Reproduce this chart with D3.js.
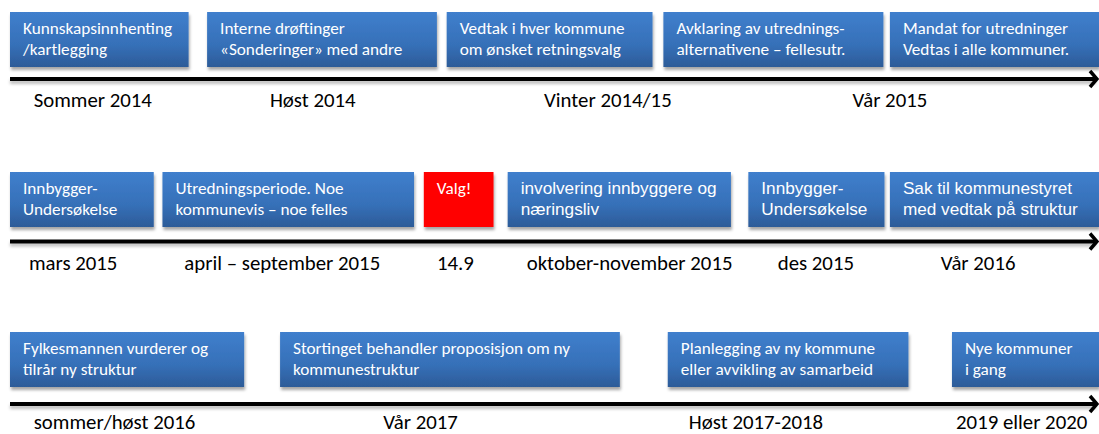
<!DOCTYPE html>
<html>
<head>
<meta charset="utf-8">
<script src="https://cdn.jsdelivr.net/npm/d3@7"></script>
<style>
  html, body { margin: 0; padding: 0; background: #fff; }
  svg { display: block; }
</style>
</head>
<body>
<div id="chart"></div>
<script>
// ---------- Data ----------
// box text (lines split by "|"), span on the timeline (0-100), label position
const row1Text  = ["Kunnskapsinnhenting|/kartlegging", "Interne drøftinger|«Sonderinger» med andre",
                   "Vedtak i hver kommune|om ønsket retningsvalg", "Avklaring av utrednings-|alternativene – fellesutr.",
                   "Mandat for utredninger|Vedtas i alle kommuner."];
const row1Span  = [[0, 16.4], [18.1, 39.2], [40.1, 59.0], [60.0, 80.2], [80.8, 100]];
const row1Label = ["Sommer 2014", "Høst 2014", "Vinter 2014/15", "Vår 2015"];
const row1LabelAt = [7.6, 27.8, 54.9, 80.8];

const row2Text  = ["Innbygger-|Undersøkelse", "Utredningsperiode. Noe|kommunevis – noe felles", "Valg!",
                   "involvering innbyggere og|næringsliv", "Innbygger-|Undersøkelse",
                   "Sak til kommunestyret|med vedtak på struktur"];
const row2Span  = [[0, 13.2], [14.0, 37.1], [38.0, 44.4], [45.7, 66.2], [67.8, 80.3], [80.8, 100]];
const row2Kind  = ["calibri", "calibri", "red", "arial", "arial", "arial"];
const row2Label = ["mars 2015", "april – september 2015", "14.9", "oktober-november 2015", "des 2015", "Vår 2016"];
const row2LabelAt = [5.8, 25.0, 40.9, 56.9, 74.0, 88.9];

const row3Text  = ["Fylkesmannen vurderer og|tilrår ny struktur", "Stortinget behandler proposisjon om ny|kommunestruktur",
                   "Planlegging av ny kommune|eller avvikling av samarbeid", "Nye kommuner|i gang"];
const row3Span  = [[0, 21.5], [24.8, 56.0], [60.4, 82.5], [86.5, 100]];
const row3Label = ["sommer/høst 2016", "Vår 2017", "Høst 2017-2018", "2019 eller 2020"];
const row3LabelAt = [9.6, 37.7, 68.5, 92.9];

const rows = [
  {text: row1Text, span: row1Span, kind: row1Text.map(() => "calibri"), label: row1Label, at: row1LabelAt},
  {text: row2Text, span: row2Span, kind: row2Kind, label: row2Label, at: row2LabelAt},
  {text: row3Text, span: row3Span, kind: row3Text.map(() => "calibri"), label: row3Label, at: row3LabelAt}
];

// ---------- Setup ----------
const width = 1099, height = 434;
const svg = d3.select("#chart").append("svg")
  .attr("width", width).attr("height", height);

const x = d3.scaleLinear().domain([0, 100]).range([10, 1099]);
const yBox = d3.scaleLinear().domain([0, 2]).range([12, 332]);   // box top of each row
const yAxis = d3.scaleLinear().domain([0, 2]).range([79, 404]);  // timeline of each row

const boxH = 55;
const calibri = "Carlito, Lato, 'Open Sans', sans-serif";
const arial = "'Liberation Sans', Arial, sans-serif";

const defs = svg.append("defs");
const grad = defs.append("linearGradient").attr("id", "blue")
  .attr("x1", 0).attr("x2", 0).attr("y1", 0).attr("y2", 1);
grad.append("stop").attr("offset", "0%").attr("stop-color", "#3f7fcd");
grad.append("stop").attr("offset", "60%").attr("stop-color", "#3670b8");
grad.append("stop").attr("offset", "100%").attr("stop-color", "#2c5b98");

const shadow = defs.append("filter").attr("id", "shadow")
  .attr("x", "-10%").attr("y", "-20%").attr("width", "130%").attr("height", "160%");
shadow.append("feDropShadow").attr("dx", 1).attr("dy", 3).attr("stdDeviation", 1.8)
  .attr("flood-color", "#000").attr("flood-opacity", 0.35);

const lineShadow = defs.append("filter").attr("id", "lshadow")
  .attr("x", "-5%").attr("y", "-200%").attr("width", "110%").attr("height", "500%");
lineShadow.append("feDropShadow").attr("dx", 0).attr("dy", 3).attr("stdDeviation", 1.5)
  .attr("flood-color", "#000").attr("flood-opacity", 0.25);

// ---------- Draw ----------
rows.forEach((r, i) => {
  const g = svg.append("g");
  const top = yBox(i);
  const axisY = yAxis(i);

  // boxes
  const boxes = g.selectAll("g.box")
    .data(r.text.map((t, j) => ({lines: t.split("|"), span: r.span[j], kind: r.kind[j]})))
    .join("g").attr("class", "box");

  boxes.append("rect")
    .attr("x", d => x(d.span[0]))
    .attr("y", top)
    .attr("width", d => x(d.span[1]) - x(d.span[0]))
    .attr("height", boxH)
    .attr("fill", d => d.kind === "red" ? "#ff0000" : "url(#blue)")
    .attr("filter", "url(#shadow)");

  boxes.each(function(d) {
    const t = d3.select(this).append("text")
      .attr("fill", "#fff")
      .attr("font-family", d.kind === "arial" ? arial : calibri)
      .attr("font-size", 17.2);
    d.lines.forEach((ln, k) => {
      t.append("tspan")
        .attr("x", x(d.span[0]) + 13)
        .attr("y", top + 22 + k * 21)
        .text(ln);
    });
  });

  // timeline axis with arrow (a rect so the shadow filter has a real box)
  g.append("rect")
    .attr("x", x(0)).attr("width", x(100) - 3 - x(0))
    .attr("y", axisY - 2).attr("height", 4)
    .attr("fill", "#000")
    .attr("filter", "url(#lshadow)");
  g.append("path")
    .attr("d", `M${x(100) - 9},${axisY - 8} L${x(100) - 2},${axisY} L${x(100) - 9},${axisY + 8}`)
    .attr("fill", "none").attr("stroke", "#000").attr("stroke-width", 3.5);

  // period labels (kept inside the picture at the bottom edge)
  g.selectAll("text.lbl")
    .data(r.label.map((l, j) => ({l, at: r.at[j]})))
    .join("text").attr("class", "lbl")
    .attr("x", d => x(d.at))
    .attr("y", Math.min(axisY + 28, height - 5))
    .attr("text-anchor", "middle")
    .attr("font-family", calibri)
    .attr("font-size", 20.8)
    .attr("fill", "#000")
    .text(d => d.l);
});
</script>
</body>
</html>
